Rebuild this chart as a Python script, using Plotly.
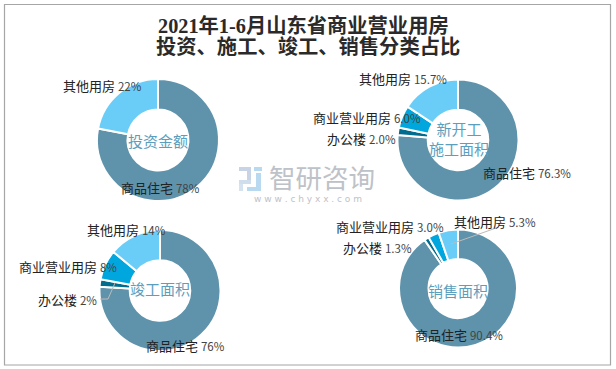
import plotly.graph_objects as go

W, H = 616, 369

categories = ["商品住宅", "办公楼", "商业营业用房", "其他用房"]
colors = ["#5E93AB", "#006C8E", "#00A6DE", "#6ACDF7"]

invest_cats = ["商品住宅", "其他用房"]
invest_vals = [78, 22]
invest_colors = ["#5E93AB", "#6ACDF7"]
start_vals = [76.3, 2.0, 6.0, 15.7]
finish_vals = [76, 2, 8, 14]
sales_vals = [90.4, 1.3, 3.0, 5.3]

title_lines = ["2021年1-6月山东省商业营业用房", "投资、施工、竣工、销售分类占比"]
center_names = ["投资金额", "新开工<br>施工面积", "竣工面积", "销售面积"]

FONT = "Noto Sans CJK SC"


def px(x):
    return x / W


def py(y):
    return 1 - y / H


panels = [
    dict(cats=invest_cats, vals=invest_vals, cols=invest_colors, fmt="{:.0f}%", cx=158, cy=140, r=61, hole=0.5,
         tx=158, ty=140,
         pos={"其他用房": (62, 86), "商品住宅": (120, 187)}),
    dict(cats=categories, vals=start_vals, cols=colors, fmt="{:.1f}%", cx=458, cy=140, r=60.5, hole=0.5,
         tx=459, ty=139,
         pos={"其他用房": (358, 79), "商业营业用房": (312, 117), "办公楼": (326, 139), "商品住宅": (482, 172)}),
    dict(cats=categories, vals=finish_vals, cols=colors, fmt="{:.0f}%", cx=160, cy=290.5, r=60.5, hole=0.5,
         tx=160, ty=288,
         pos={"其他用房": (86, 229), "商业营业用房": (18, 266), "办公楼": (37, 299), "商品住宅": (145, 345)}),
    dict(cats=categories, vals=sales_vals, cols=colors, fmt="{:.1f}%", cx=458, cy=288.5, r=59, hole=0.5,
         tx=458, ty=290,
         pos={"其他用房": (453, 221), "商业营业用房": (335, 226), "办公楼": (342, 247), "商品住宅": (414, 334)}),
]

fig = go.Figure()
annotations = []

for i, p in enumerate(panels):
    fig.add_trace(go.Pie(
        labels=p["cats"], values=p["vals"], hole=p["hole"], sort=False, direction="clockwise", rotation=0,
        marker=dict(colors=p["cols"], line=dict(color="white", width=2)),
        textinfo="none", hoverinfo="label+percent", showlegend=False,
        domain=dict(x=[px(p["cx"] - p["r"]), px(p["cx"] + p["r"])],
                    y=[py(p["cy"] + p["r"]), py(p["cy"] - p["r"])]),
    ))
    annotations.append(dict(
        x=px(p["tx"]), y=py(p["ty"]), xref="paper", yref="paper", xanchor="center", yanchor="middle",
        text=center_names[i], showarrow=False, align="center",
        font=dict(family=FONT, size=15, color="#5B9EBD"), borderpad=0,
    ))
    for c, v in zip(p["cats"], p["vals"]):
        x, y = p["pos"][c]
        annotations.append(dict(
            x=px(x), y=py(y), xref="paper", yref="paper", xanchor="left", yanchor="middle",
            text=f"{c} <span style='font-size:11.5px;color:#444'>{p['fmt'].format(v)}</span>",
            showarrow=False, font=dict(family=FONT, size=13, color="#222222"), borderpad=0,
        ))

# Title
annotations.append(dict(x=px(303), y=py(25), xref="paper", yref="paper", xanchor="center", yanchor="middle",
                        text="<b>" + title_lines[0] + "</b>", showarrow=False,
                        font=dict(family="Liberation Serif, " + FONT, size=20.3, color="#2A2A2A")))
annotations.append(dict(x=px(307.5), y=py(46), xref="paper", yref="paper", xanchor="center", yanchor="middle",
                        text="<b>" + title_lines[1] + "</b>", showarrow=False,
                        font=dict(family="Liberation Serif, " + FONT, size=20.3, color="#2A2A2A")))

# Watermark
annotations.append(dict(x=px(267), y=py(176.5), xref="paper", yref="paper", xanchor="left", yanchor="middle",
                        text="智研咨询", showarrow=False,
                        font=dict(family=FONT, size=26.5, color="#BDC2C8")))
annotations.append(dict(x=px(308), y=py(199), xref="paper", yref="paper", xanchor="center", yanchor="middle",
                        text="w w w . c h y x x . c o m", showarrow=False,
                        font=dict(family="DejaVu Sans", size=9, color="#BDC2C8")))

shapes = [
    dict(type="rect", xref="paper", yref="paper", x0=px(4.5), x1=px(610.5), y0=py(365), y1=py(4.5),
         line=dict(color="#A6A6A6", width=1.2), fillcolor="rgba(0,0,0,0)", layer="below"),
    # leader lines
    dict(type="line", xref="paper", yref="paper", x0=px(451), y0=py(244), x1=px(496), y1=py(228),
         line=dict(color="#BBBBBB", width=1)),
    dict(type="line", xref="paper", yref="paper", x0=px(115), y0=py(283), x1=px(108), y1=py(299),
         line=dict(color="#BBBBBB", width=1)),
    dict(type="line", xref="paper", yref="paper", x0=px(108), y0=py(299), x1=px(100), y1=py(299),
         line=dict(color="#BBBBBB", width=1)),
    # watermark logo
    dict(type="rect", xref="paper", yref="paper", x0=px(239), x1=px(251), y0=py(171), y1=py(167),
         line=dict(width=0), fillcolor="#C9D3E6", layer="below"),
    dict(type="rect", xref="paper", yref="paper", x0=px(247), x1=px(251), y0=py(180), y1=py(171),
         line=dict(width=0), fillcolor="#C9D3E6", layer="below"),
    dict(type="rect", xref="paper", yref="paper", x0=px(239), x1=px(251), y0=py(184), y1=py(180),
         line=dict(width=0), fillcolor="#CFDDEC", layer="below"),
    dict(type="rect", xref="paper", yref="paper", x0=px(239), x1=px(243), y0=py(191), y1=py(184),
         line=dict(width=0), fillcolor="#D5E3F0", layer="below"),
    dict(type="rect", xref="paper", yref="paper", x0=px(254), x1=px(262), y0=py(171), y1=py(167),
         line=dict(width=0), fillcolor="#B9D9F0", layer="below"),
    dict(type="rect", xref="paper", yref="paper", x0=px(256), x1=px(261), y0=py(188), y1=py(173),
         line=dict(width=0), fillcolor="#B9D9F0", layer="below"),
    dict(type="rect", xref="paper", yref="paper", x0=px(247), x1=px(261), y0=py(191), y1=py(187),
         line=dict(width=0), fillcolor="#B9D9F0", layer="below"),
]

fig.update_layout(
    width=W, height=H, margin=dict(l=0, r=0, t=0, b=0, autoexpand=False),
    paper_bgcolor="white", plot_bgcolor="white",
    annotations=annotations, shapes=shapes, showlegend=False,
)
fig.write_html("out.html", config=dict(displayModeBar=False),
               post_script="document.body.style.margin='0';document.documentElement.style.overflow='hidden';")
